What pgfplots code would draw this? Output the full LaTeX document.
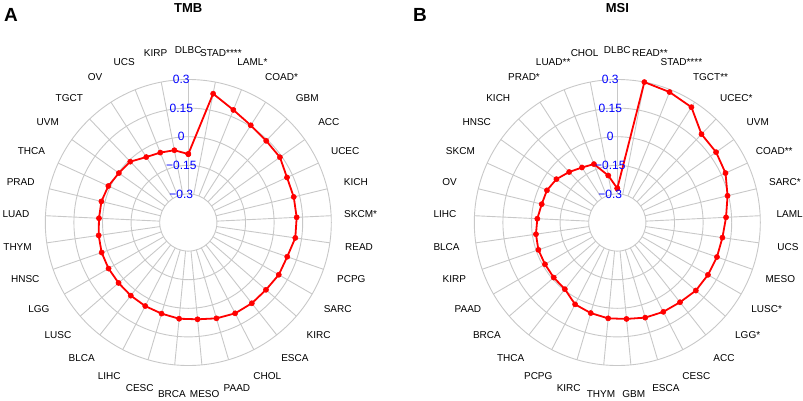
\documentclass[border=0pt]{standalone}
\usepackage{pgfplots}
\pgfplotsset{compat=1.18}
\usepackage{pgfplotstable}
\usepackage{fontspec}
\setmainfont{Liberation Sans}
\definecolor{gridc}{RGB}{200,200,200}

\pgfplotstableread{
k label value
0 DLBC -0.091
1 STAD**** 0.238
2 LAML* 0.186
3 COAD* 0.156
4 GBM 0.142
5 ACC 0.140
6 UCEC 0.119
7 KICH 0.119
8 SKCM* 0.119
9 READ 0.117
10 PCPG 0.099
11 SARC 0.098
12 KIRC 0.089
13 ESCA 0.089
14 CHOL 0.086
15 PAAD 0.074
16 MESO 0.060
17 BRCA 0.057
18 CESC 0.048
19 LIHC 0.043
20 BLCA 0.038
21 LUSC 0.034
22 LGG 0.033
23 HNSC 0.031
24 THYM 0.025
25 LUAD 0.019
26 PRAD 0.019
27 THCA 0.011
28 UVM -0.003
29 TGCT -0.009
30 OV -0.042
31 UCS -0.055
32 KIRP -0.064
33 DLBC -0.091
}\tmb

\pgfplotstableread{
k label value
0 DLBC -0.271
1 READ** 0.300
2 STAD**** 0.287
3 TGCT** 0.269
4 UCEC* 0.190
5 UVM 0.186
6 COAD** 0.174
7 SARC* 0.145
8 LAML 0.121
9 UCS 0.107
10 MESO 0.103
11 LUSC* 0.099
12 LGG* 0.095
13 ACC 0.082
14 CESC 0.077
15 ESCA 0.070
16 GBM 0.058
17 THYM 0.055
18 KIRC 0.045
19 PCPG 0.033
20 THCA -0.005
21 BRCA -0.009
22 PAAD -0.012
23 KIRP -0.012
24 BLCA -0.019
25 LIHC -0.030
26 OV -0.042
27 SKCM -0.044
28 HNSC -0.058
29 KICH -0.084
30 PRAD* -0.107
31 LUAD** -0.120
32 CHOL -0.199
33 DLBC -0.271
}\msi

\pgfplotsset{
  radar/.style={
    anchor=origin, x=1pt, y=1pt,
    xmin=-140, xmax=140, ymin=-140, ymax=140,
    hide axis, clip=false,
  },
  radarline/.style={
    red, line width=1.8pt, mark=*, mark size=2.6pt,
    mark options={fill=red, draw=red, solid, line width=0.5pt},
  },
  radarlabels/.style={
    draw=none, mark=none, nodes near coords, point meta=explicit symbolic,
    skip coords between index={33}{34},
    nodes near coords style={anchor=center, font=\fontsize{10}{12}\selectfont, text=black, inner sep=0pt},
  },
}

\begin{document}
\begin{tikzpicture}[x=1pt,y=1pt]
\path[use as bounding box] (0,0) rectangle (803,-400);

\foreach \cx in {188.3,617.3}{
  \begin{scope}[shift={(\cx,-222.5)}]
    \foreach \r in {28.6,57.2,85.8,114.4,143}
      \draw[gridc, line width=0.9pt] (0,0) circle[radius=\r pt];
    \foreach \k in {0,...,32}
      \draw[gridc, line width=0.9pt] (90-\k*360/33:28.6pt) -- (90-\k*360/33:143pt);
  \end{scope}
}

\begin{axis}[radar, at={(188.3pt,-222.5pt)}]
\addplot[radarline] table[
  x expr={(\thisrow{value}+0.45)*190.667*cos(90-\thisrow{k}*360/33)},
  y expr={(\thisrow{value}+0.45)*190.667*sin(90-\thisrow{k}*360/33)}] \tmb;
\addplot[radarlabels] table[
  x expr={172.5*cos(90-\thisrow{k}*360/33)},
  y expr={172.5*sin(90-\thisrow{k}*360/33)}, meta=label] \tmb;
\end{axis}

\begin{axis}[radar, at={(617.3pt,-222.5pt)}]
\addplot[radarline] table[
  x expr={(\thisrow{value}+0.45)*190.667*cos(90-\thisrow{k}*360/33)},
  y expr={(\thisrow{value}+0.45)*190.667*sin(90-\thisrow{k}*360/33)}] \msi;
\addplot[radarlabels] table[
  x expr={172.5*cos(90-\thisrow{k}*360/33)},
  y expr={172.5*sin(90-\thisrow{k}*360/33)}, meta=label] \msi;
\end{axis}

\foreach \cx in {188.3,617.3}{
  \foreach \v/\r in {0.3/143,0.15/114.4,0/85.8,−0.15/57.2,−0.3/28.6}
    \node[text=blue, font=\fontsize{12}{14}\selectfont, inner sep=0pt] at (\cx-7,-222.5+\r) {\v};
}

\node[font=\bfseries\fontsize{13}{15}\selectfont, inner sep=0pt] at (188.3,-8) {TMB};
\node[font=\bfseries\fontsize{13}{15}\selectfont, inner sep=0pt] at (617.3,-8) {MSI};
\node[font=\bfseries\fontsize{19}{21}\selectfont, inner sep=0pt] at (11,-15) {A};
\node[font=\bfseries\fontsize{19}{21}\selectfont, inner sep=0pt] at (420,-15) {B};
\end{tikzpicture}
\end{document}
